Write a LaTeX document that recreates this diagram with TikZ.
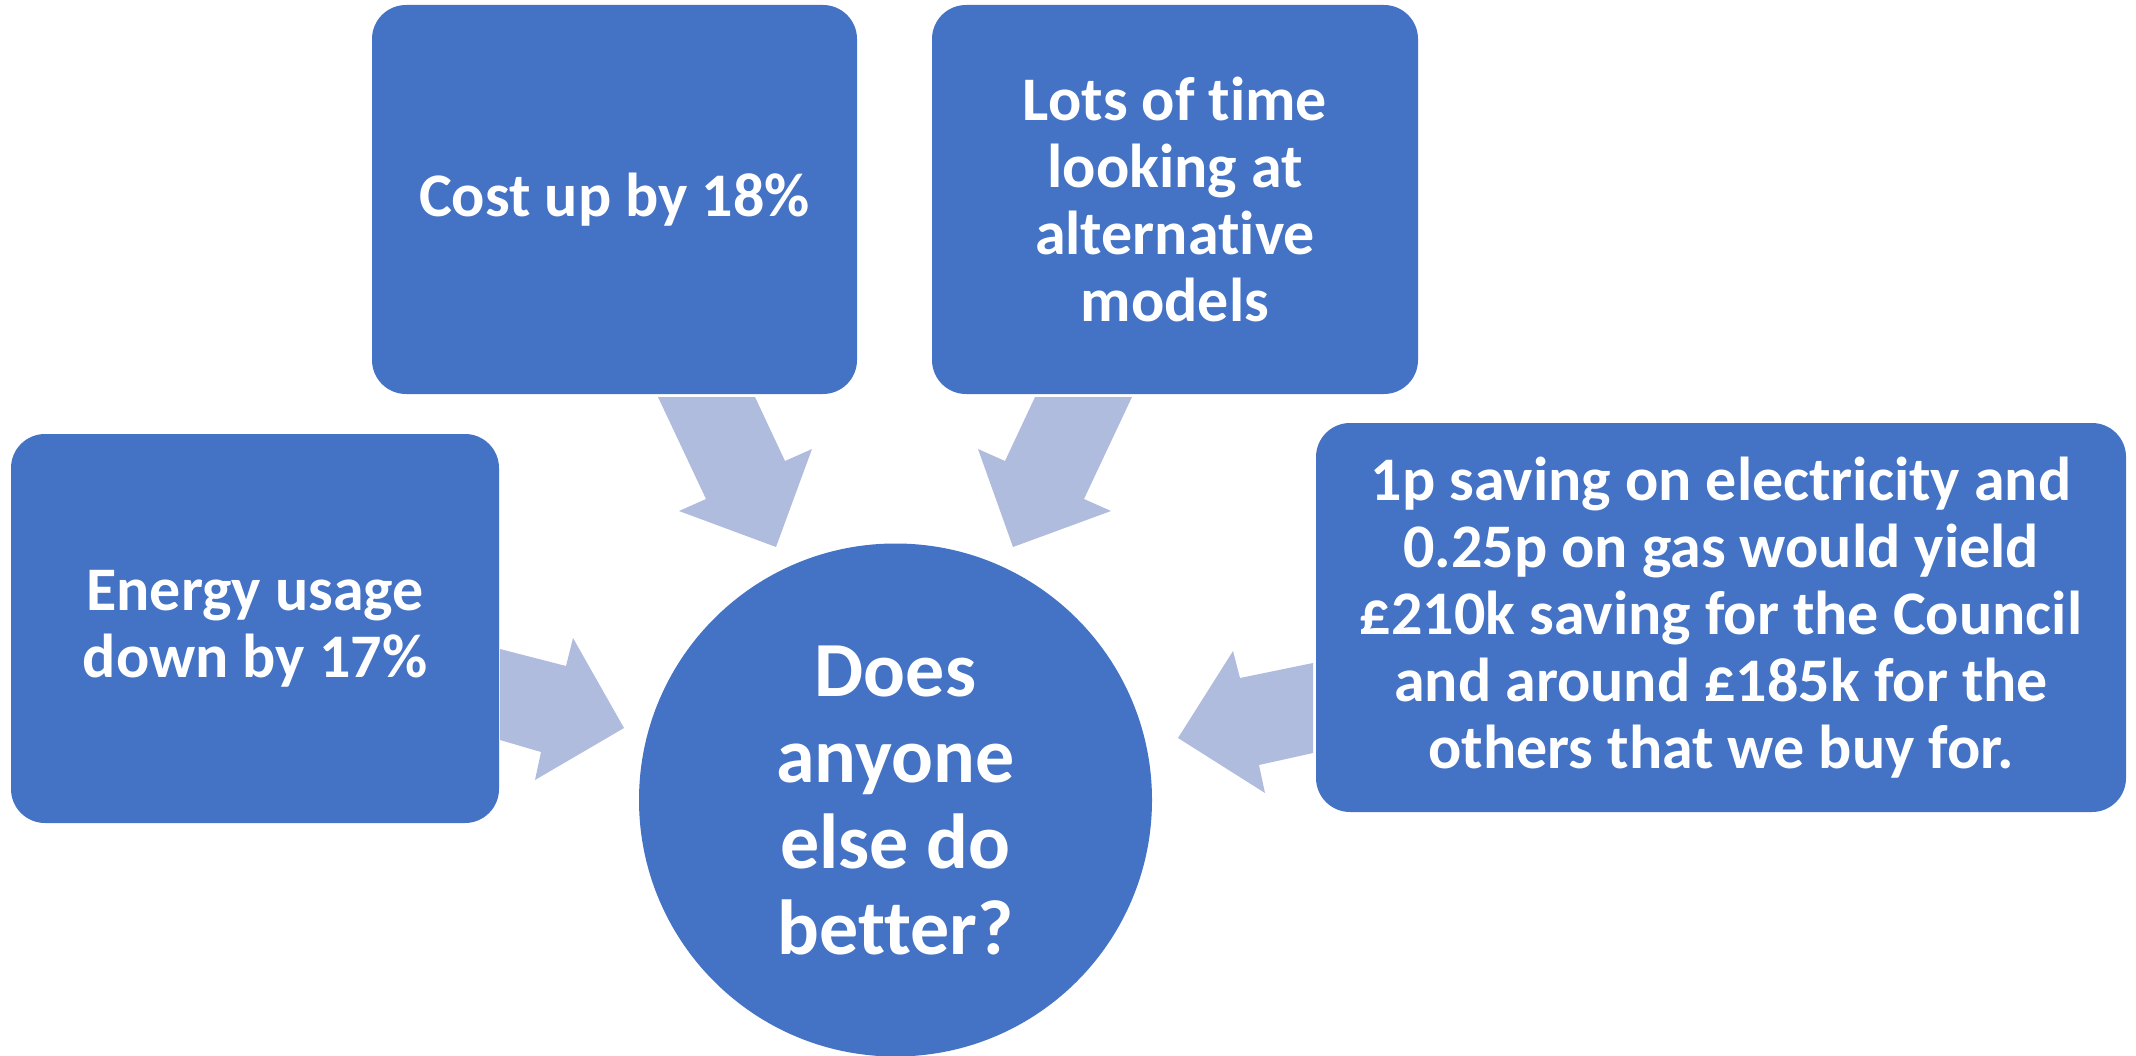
\documentclass[tikz,border=0pt]{standalone}
\usepackage{fontspec}
\setmainfont{Carlito}[Ligatures=NoCommon]
\definecolor{boxblue}{RGB}{68,114,196}
\definecolor{arrowblue}{RGB}{176,188,222}
\begin{document}
\begin{tikzpicture}[x=1pt,y=-1pt,
  box/.style={rectangle, fill=boxblue, rounded corners=34pt, text=white,
    font=\bfseries\fontsize{62}{67}\selectfont, align=center, inner sep=0pt},
  bigcircle/.style={circle, fill=boxblue, text=white,
    font=\bfseries\fontsize{78}{86}\selectfont, align=center, inner sep=0pt, minimum size=513pt},
  blockarrow/.style={fill=arrowblue}]
\useasboundingbox (0,0) rectangle (2136,1056);

\node[box, minimum width=485pt, minimum height=389pt] (cost) at (614.5,199.5) {Cost up by 18\%};
\node[box, minimum width=486pt, minimum height=389pt] (lots) at (1175,199.5) {Lots of time\\looking at\\alternative\\models};
\node[box, minimum width=488pt, minimum height=389pt] (energy) at (255,628.5) {Energy usage\\down by 17\%};
\node[box, minimum width=810pt, minimum height=389pt] (saving) at (1721,617.5) {1p saving on electricity and\\0.25p on gas would yield\\£210k saving for the Council\\and around £185k for the\\others that we buy for.};
\node[bigcircle] (q) at (895.5,800) {Does\\anyone\\else do\\better?};

% block arrows towards the circle
\fill[blockarrow] (500,649) -- (566,666) -- (573,638) -- (624,728) -- (535,780) -- (541,752) -- (500,740) -- cycle;
\fill[blockarrow] (658,397) -- (755,397) -- (785,461) -- (812,449) -- (776,547) -- (679,511) -- (706,499) -- cycle;
\fill[blockarrow] (1035,397) -- (1132,397) -- (1084,499) -- (1111,511) -- (1013,547) -- (978,449) -- (1005,461) -- cycle;
\fill[blockarrow] (1313,663) -- (1240,678) -- (1233,651) -- (1178,738) -- (1265,793) -- (1259,765) -- (1313,753) -- cycle;
\end{tikzpicture}
\end{document}
